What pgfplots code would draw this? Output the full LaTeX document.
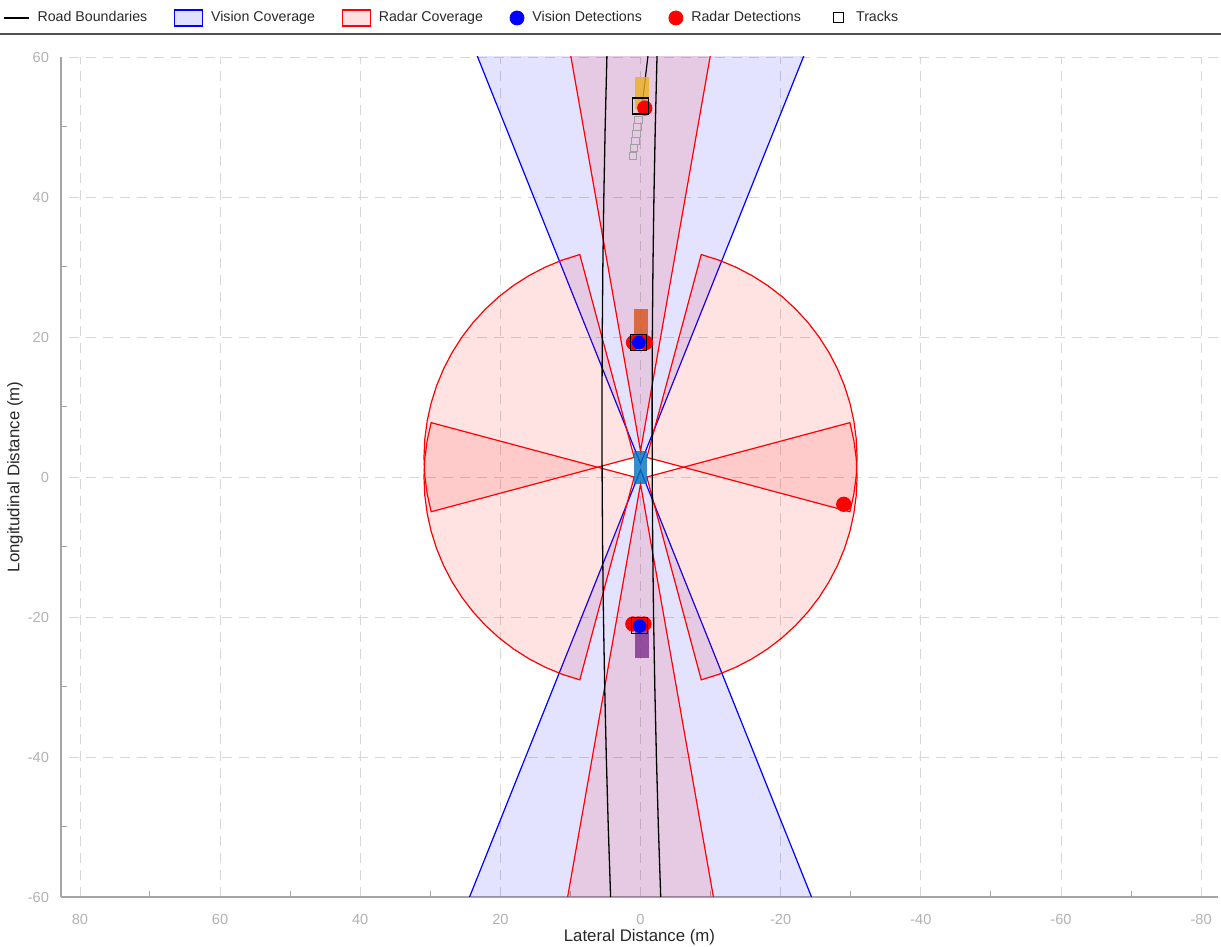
\documentclass[border=0pt]{standalone}
\usepackage{fontspec}
\setmainfont{Liberation Sans}
\usepackage{pgfplots}
\pgfplotsset{compat=1.18}
\definecolor{mblue}{RGB}{0,114,189}
\definecolor{morange}{RGB}{217,83,25}
\definecolor{myellow}{RGB}{237,177,32}
\definecolor{mpurple}{RGB}{126,47,142}
\definecolor{tickgray}{RGB}{178,178,178}
\definecolor{axgray}{RGB}{165,165,165}
\definecolor{gridgray}{RGB}{215,215,215}
\definecolor{histgray}{RGB}{160,160,160}
\definecolor{labelgray}{RGB}{40,40,40}
\begin{document}
\begin{tikzpicture}
\useasboundingbox (0,0) rectangle (610.5pt,473.5pt);
\begin{axis}[
  at={(30.5pt,25pt)}, anchor=south west,
  width=578.5pt, height=420pt, scale only axis,
  xmin=-82.4, xmax=82.7, x dir=reverse,
  ymin=-60, ymax=60,
  xtick={-80,-60,...,80}, ytick={-60,-40,...,60},
  minor xtick={-70,-50,...,70}, minor ytick={-50,-30,...,50},
  grid=major, major grid style={gridgray, dash pattern=on 5pt off 3.5pt},
  axis x line*=bottom, axis y line*=left,
  axis line style={axgray, line width=0.6pt},
  tick style={axgray, line width=0.5pt},
  tick align=inside,
  major tick length=0pt, minor tick length=3pt,
  /pgf/number format/assume math mode=true,
  ticklabel style={tickgray, font=\fontsize{7.3}{8}\selectfont},
  xticklabel style={yshift=-5pt},
  yticklabel style={xshift=-2.5pt},
  xlabel={Lateral Distance (m)}, ylabel={Longitudinal Distance (m)},
  label style={font=\fontsize{8.4}{10}\selectfont, text=labelgray},
  xlabel style={at={(axis description cs:0.5,-0.0476)}, anchor=center},
  ylabel style={at={(axis description cs:-0.0398,0.5)}, anchor=center},
  legend columns=6,
  legend style={draw=none, fill=none, at={(rel axis cs:0,1)}, anchor=west,
    xshift=-29pt, yshift=19.5pt, inner xsep=0pt,
    font=\fontsize{7.1}{8}\selectfont, text=labelgray,
    /tikz/every odd column/.append style={column sep=2pt},
    /tikz/every even column/.append style={column sep=11.3pt}},
]
% ----- legend entries -----
\addlegendimage{legend image code/.code={\draw[black, line width=0.6pt] (0pt,0pt) -- (12.5pt,0pt);}}
\addlegendentry{Road Boundaries}
\addlegendimage{legend image code/.code={\draw[blue, fill=blue, fill opacity=0.12, line width=0.6pt] (0pt,-4pt) rectangle (14pt,4pt);}}
\addlegendentry{Vision Coverage}
\addlegendimage{legend image code/.code={\draw[red, fill=red, fill opacity=0.12, line width=0.6pt] (0pt,-4pt) rectangle (14pt,4pt);}}
\addlegendentry{Radar Coverage}
\addlegendimage{legend image code/.code={\fill[blue] (3.5pt,0pt) circle (3.5pt);}}
\addlegendentry{Vision Detections}
\addlegendimage{legend image code/.code={\fill[red] (3.5pt,0pt) circle (3.5pt);}}
\addlegendentry{Radar Detections}
\addlegendimage{legend image code/.code={\path[draw=none] (0pt,0pt) -- (3pt,0pt); \draw[black, line width=0.5pt] (3pt,-2.5pt) rectangle (8pt,2.5pt);}}
\addlegendentry{\hspace{2pt}Tracks}
% ----- vision coverage -----
\addplot[forget plot, draw=blue, line width=0.6pt, fill=blue, fill opacity=0.11]
  coordinates {(0,1.9) (40,101.9) (-40,101.9)} -- cycle;
\addplot[forget plot, draw=blue, line width=0.6pt, fill=blue, fill opacity=0.11]
  coordinates {(0,1.0) (40,-99) (-40,-99)} -- cycle;
% ----- radar coverage -----
\addplot[forget plot, draw=red, line width=0.6pt, fill=red, fill opacity=0.11]
  coordinates {(0,3.7) (17.63,103.7) (-17.63,103.7)} -- cycle;
\addplot[forget plot, draw=red, line width=0.6pt, fill=red, fill opacity=0.11]
  coordinates {(0,-1) (17.63,-101) (-17.63,-101)} -- cycle;
\addplot[forget plot, draw=red, line width=0.6pt, fill=red, fill opacity=0.11]
  coordinates {(0.9,2.8) (8.665,31.778) (11.161,30.991) (13.579,29.989) (15.900,28.781) (18.107,27.375) (20.184,25.781) (22.113,24.013) (23.881,22.084) (25.475,20.007) (26.881,17.800) (28.089,15.479) (29.091,13.061) (29.878,10.565) (30.444,8.009) (30.786,5.415) (30.900,2.800) (30.786,0.185) (30.444,-2.409) (29.878,-4.965)} -- cycle;
\addplot[forget plot, draw=red, line width=0.6pt, fill=red, fill opacity=0.11]
  coordinates {(0.9,0) (29.878,7.765) (30.444,5.209) (30.786,2.615) (30.900,0) (30.786,-2.615) (30.444,-5.209) (29.878,-7.765) (29.091,-10.261) (28.089,-12.679) (26.881,-15.000) (25.475,-17.207) (23.881,-19.284) (22.113,-21.213) (20.184,-22.981) (18.107,-24.575) (15.900,-25.981) (13.579,-27.189) (11.161,-28.191) (8.665,-28.978)} -- cycle;
\addplot[forget plot, draw=red, line width=0.6pt, fill=red, fill opacity=0.11]
  coordinates {(-0.9,2.8) (-8.665,31.778) (-11.161,30.991) (-13.579,29.989) (-15.900,28.781) (-18.107,27.375) (-20.184,25.781) (-22.113,24.013) (-23.881,22.084) (-25.475,20.007) (-26.881,17.800) (-28.089,15.479) (-29.091,13.061) (-29.878,10.565) (-30.444,8.009) (-30.786,5.415) (-30.900,2.800) (-30.786,0.185) (-30.444,-2.409) (-29.878,-4.965)} -- cycle;
\addplot[forget plot, draw=red, line width=0.6pt, fill=red, fill opacity=0.11]
  coordinates {(-0.9,0) (-29.878,7.765) (-30.444,5.209) (-30.786,2.615) (-30.900,0) (-30.786,-2.615) (-30.444,-5.209) (-29.878,-7.765) (-29.091,-10.261) (-28.089,-12.679) (-26.881,-15.000) (-25.475,-17.207) (-23.881,-19.284) (-22.113,-21.213) (-20.184,-22.981) (-18.107,-24.575) (-15.900,-25.981) (-13.579,-27.189) (-11.161,-28.191) (-8.665,-28.978)} -- cycle;
% ----- road boundaries -----
\addplot[forget plot, black, line width=0.65pt] coordinates {(4.744,62) (4.80,60) (5.045,50) (5.237,40) (5.377,30) (5.465,20) (5.499,10) (5.481,0) (5.411,-10) (5.288,-20) (5.112,-30) (4.884,-40) (4.603,-50) (4.270,-60) (4.197,-62)};
\addplot[forget plot, black, line width=0.65pt] coordinates {(-2.406,62) (-2.35,60) (-2.105,50) (-1.913,40) (-1.773,30) (-1.685,20) (-1.651,10) (-1.669,0) (-1.739,-10) (-1.862,-20) (-2.038,-30) (-2.266,-40) (-2.547,-50) (-2.88,-60) (-2.953,-62)};
\addplot[forget plot, black, line width=0.6pt] coordinates {(-0.3,53.7) (-1.1,60.5)};
% ----- vehicles -----
\addplot[forget plot, draw=none, fill=mblue, fill opacity=0.8] coordinates {(0.9,-1) (0.9,3.7) (-0.9,3.7) (-0.9,-1)} -- cycle;
\addplot[forget plot, draw=none, fill=myellow, fill opacity=0.8] coordinates {(0.75,52.5) (0.75,57.2) (-1.15,57.2) (-1.15,52.5)} -- cycle;
\addplot[forget plot, draw=none, fill=morange, fill opacity=0.8] coordinates {(1.0,19.3) (1.0,24.0) (-1.0,24.0) (-1.0,19.3)} -- cycle;
\addplot[forget plot, draw=none, fill=mpurple, fill opacity=0.8] coordinates {(0.85,-25.9) (0.85,-21.2) (-1.15,-21.2) (-1.15,-25.9)} -- cycle;
% ----- track history -----
\addplot[forget plot, only marks, mark=square, mark size=1.8pt, mark options={histgray, line width=0.5pt}] coordinates {(0.3,51.0) (0.43,50.0) (0.57,49.0) (0.71,48.0) (0.9,47.0) (1.1,45.9)};
% ----- radar detections -----
\addplot[forget plot, only marks, mark=*, mark size=3.6pt, mark options={red, draw=red}] coordinates {(1.0,19.2) (0.2,19.3) (-0.7,19.2) (1.1,-21.0) (0.3,-21.0) (-0.5,-21.0) (-0.6,52.7) (-29.0,-3.9)};
% ----- vision detections -----
\addplot[forget plot, only marks, mark=*, mark size=3.2pt, mark options={blue, draw=blue}] coordinates {(0.24,19.2) (0.14,-21.3)};
% ----- tracks -----
\addplot[forget plot, only marks, mark=square, mark size=4pt, mark options={black, line width=0.6pt}] coordinates {(0,53.0) (0.28,19.2) (0.1,-21.2)};
\end{axis}
\draw[color={rgb,255:red,80;green,80;blue,80}, line width=1pt] (0,456.5pt) -- (610.5pt,456.5pt);
\end{tikzpicture}
\end{document}
